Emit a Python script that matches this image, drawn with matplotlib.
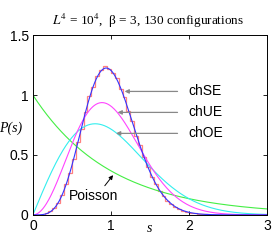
import numpy as np
import matplotlib.pyplot as plt

# histogramme des espacements (largeur de bin 0.05)
bin_edges = [round(0.05 * i, 2) for i in range(51)]
hist_vals = [0.0, 0.0, 0.003, 0.012, 0.03, 0.06, 0.10, 0.17, 0.26, 0.35,
             0.47, 0.61, 0.72, 0.86, 0.99, 1.07, 1.16, 1.21, 1.24, 1.22,
             1.18, 1.14, 1.05, 0.98, 0.87, 0.78, 0.66, 0.58, 0.48, 0.40,
             0.32, 0.26, 0.20, 0.16, 0.12, 0.09, 0.07, 0.05, 0.035, 0.025,
             0.018, 0.012, 0.008, 0.006, 0.004, 0.003, 0.002, 0.001, 0.001, 0.0]

# surmises de Wigner (chOE, chUE, chSE) et Poisson
def p_oe(s):
    return np.pi / 2 * s * np.exp(-np.pi * s ** 2 / 4)

def p_ue(s):
    return 32 / np.pi ** 2 * s ** 2 * np.exp(-4 * s ** 2 / np.pi)

def p_se(s):
    return 2 ** 18 / (3 ** 6 * np.pi ** 3) * s ** 4 * np.exp(-64 * s ** 2 / (9 * np.pi))

def p_poisson(s):
    return np.exp(-s)

x_ticks = [0, 1, 2, 3]
y_ticks = [0, 0.5, 1, 1.5]
y_ticklabels = ['0', '0.5', '1', '1.5']

plt.rcParams['font.family'] = ['Liberation Sans', 'DejaVu Sans']
plt.rcParams['mathtext.fontset'] = 'stix'

fig = plt.figure(figsize=(2.74, 2.42), dpi=100)
ax = fig.add_axes([0.120, 0.112, 0.854, 0.743])

s = np.linspace(0, 3, 400)
ax.stairs(hist_vals, bin_edges, color='#ff8080', lw=0.9)
ax.plot(s, p_poisson(s), color='#44ee44', lw=0.8)
ax.plot(s, p_oe(s), color='#33eeee', lw=0.8)
ax.plot(s, p_ue(s), color='#ff44ff', lw=0.8)
ax.plot(s, p_se(s), color='#3333ff', lw=0.8)

ax.set_xlim(0, 3)
ax.set_ylim(0, 1.5)
ax.set_xticks(x_ticks)
ax.set_yticks(y_ticks)
ax.set_yticklabels(y_ticklabels)
ax.tick_params(direction='in', top=True, right=True, labelsize=10, length=3, width=0.6, pad=3)
for sp in ax.spines.values():
    sp.set_linewidth(0.7)

# étiquettes avec flèches
gray = '#888888'
for lab, yy, xt in [('chSE', 1.03, 1.14), ('chUE', 0.855, 1.05), ('chOE', 0.68, 1.03)]:
    ax.annotate('', xy=(xt, yy), xytext=(1.89, yy),
                arrowprops=dict(arrowstyle='-|>', color=gray, lw=0.9, mutation_scale=6))
    ax.text(1.99, yy, lab, fontsize=10, va='center', ha='left')

ax.annotate('', xy=(1.05, 0.35), xytext=(0.9, 0.225),
            arrowprops=dict(arrowstyle='-|>', color='black', lw=0.7, mutation_scale=6))
ax.text(0.78, 0.155, 'Poisson', fontsize=10, ha='center', va='center')

ax.text(1.5, -0.115, 's', fontsize=10, family='Liberation Serif', style='italic',
        ha='center', va='center')
ax.text(-0.14, 0.72, 'P(s)', fontsize=10, family='Liberation Serif', style='italic',
        ha='right', va='center')

fig.text(0.54, 0.915, r'$L^4$ = 10$^4$,  β = 3, 130 configurations', fontsize=9.5,
         family='Liberation Serif', ha='center', va='center')

fig.savefig('out.png', dpi=100)
